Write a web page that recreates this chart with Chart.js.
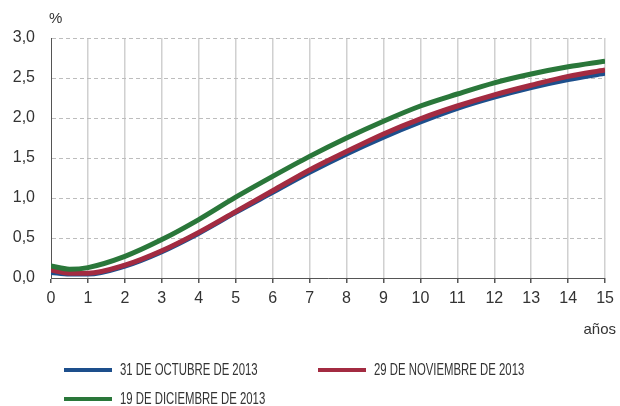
<!DOCTYPE html>
<html>
<head>
<meta charset="utf-8">
<script src="https://cdn.jsdelivr.net/npm/chart.js@4"></script>
<style>
  body { margin: 0; background: #fff; }
  #wrap { position: relative; width: 620px; height: 406px; }
  .leg { position: absolute; font-family: "Liberation Sans", Arial, sans-serif; font-size: 16px; line-height: 18px; color: #333; white-space: nowrap; }
  .leg i { position: absolute; left: 0; top: 7px; width: 48px; height: 4px; }
  .leg span { position: absolute; left: 56px; top: 0; transform: scaleX(0.71); transform-origin: 0 0; }
</style>
</head>
<body>
<div id="wrap">
  <canvas id="curve" width="620" height="406"></canvas>
  <div class="leg" style="left:64px;top:361px"><i style="background:#1d4f8c"></i><span>31 DE OCTUBRE DE 2013</span></div>
  <div class="leg" style="left:318px;top:361px"><i style="background:#a32b41"></i><span>29 DE NOVIEMBRE DE 2013</span></div>
  <div class="leg" style="left:64px;top:390px"><i style="background:#2a773a"></i><span>19 DE DICIEMBRE DE 2013</span></div>
</div>
<script>
const years = [0, 0.5, 1, 2, 3, 4, 5, 6, 7, 8, 9, 10, 11, 12, 13, 14, 15];
const oct31 = [0.07, 0.05, 0.05, 0.15, 0.33, 0.56, 0.82, 1.07, 1.32, 1.55, 1.76, 1.95, 2.12, 2.26, 2.38, 2.48, 2.56];
const nov29 = [0.10, 0.06, 0.06, 0.16, 0.34, 0.57, 0.83, 1.09, 1.35, 1.58, 1.80, 1.99, 2.15, 2.29, 2.41, 2.52, 2.60];
const dec19 = [0.15, 0.11, 0.13, 0.27, 0.48, 0.73, 1.01, 1.27, 1.52, 1.75, 1.96, 2.15, 2.30, 2.44, 2.55, 2.64, 2.71];
const yTicks = [0, 0.5, 1, 1.5, 2, 2.5, 3];

const toPts = arr => arr.map((v, i) => ({ x: years[i], y: v }));

function line(data, color) {
    return {
        data: toPts(data),
        borderColor: color,
        borderWidth: 5,
        pointRadius: 0,
        fill: false,
        cubicInterpolationMode: "monotone"
    };
}

const axisText = {
    id: "axisText",
    afterDraw(chart) {
        const c = chart.ctx;
        c.save();
        c.fillStyle = "#333";
        c.font = "15px 'Liberation Sans', Arial, sans-serif";
        c.textAlign = "left";
        c.textBaseline = "alphabetic";
        c.fillText("%", 49, 23);
        c.textAlign = "right";
        c.fillText("años", 616, 334);
        c.restore();
    }
};

new Chart(document.getElementById("curve"), {
    type: "line",
    data: {
        datasets: [
            line(dec19, "#2a773a"),
            line(nov29, "#a32b41"),
            line(oct31, "#1d4f8c")
        ]
    },
    options: {
        responsive: false,
        animation: false,
        layout: { padding: { top: 38, right: 12, left: 0, bottom: 0 } },
        plugins: { legend: { display: false }, tooltip: { enabled: false } },
        scales: {
            x: {
                type: "linear",
                min: 0, max: 15,
                afterFit: s => { s.height = 128; },
                ticks: { stepSize: 1, color: "#333", font: { family: "'Liberation Sans', Arial", size: 16 }, padding: 6 },
                grid: {
                    color: ctx => ctx.tick && ctx.tick.value === 0 ? "rgba(0,0,0,0)" : "#d0d0d0",
                    tickColor: "#555", tickLength: 5, lineWidth: 1.5
                },
                border: { color: "#555", width: 1 }
            },
            y: {
                min: 0, max: 3,
                afterFit: s => { s.width = 51; },
                afterBuildTicks: s => { s.ticks = yTicks.map(v => ({ value: v })); },
                ticks: {
                    color: "#333",
                    font: { family: "'Liberation Sans', Arial", size: 16 },
                    padding: 16,
                    callback: v => v.toFixed(1).replace(".", ",")
                },
                grid: {
                    color: ctx => ctx.tick && ctx.tick.value === 0 ? "rgba(0,0,0,0)" : "#bdbdbd",
                    drawTicks: false
                },
                border: { color: "#555", width: 1, dash: [4, 3] }
            }
        }
    },
    plugins: [axisText]
});
</script>
</body>
</html>
